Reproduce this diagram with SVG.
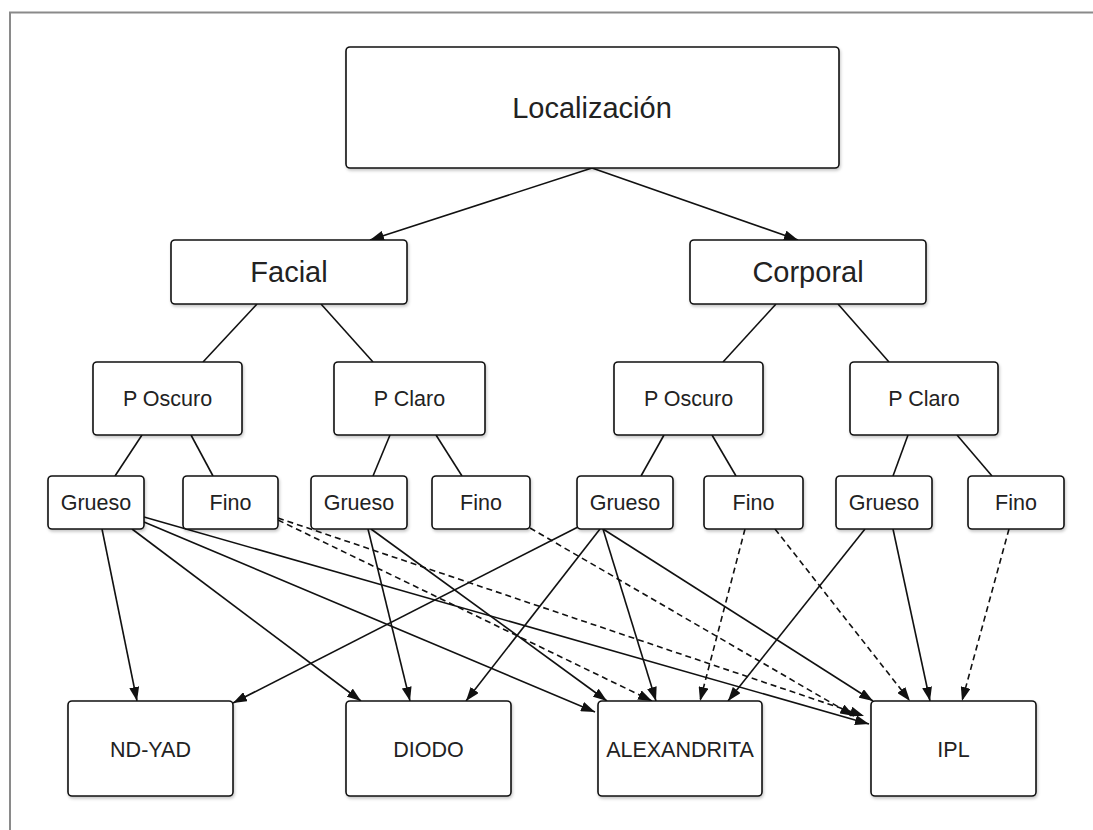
<svg xmlns="http://www.w3.org/2000/svg" width="1093" height="830" viewBox="0 0 1093 830">
<defs>
<style>
.box{fill:#fff;stroke:#111;stroke-width:1.6;filter:url(#sh)}
.t{font-family:"Liberation Sans",Arial,Helvetica,sans-serif;fill:#222;text-anchor:middle}
.big{font-size:29px}
.sm{font-size:21.5px}
.ln{stroke:#111;stroke-width:1.6;fill:none}
.ar{marker-end:url(#ah)}
.da{stroke-dasharray:6 4}
</style>
<filter id="sh" x="-10%" y="-10%" width="130%" height="140%">
<feDropShadow dx="1" dy="2" stdDeviation="1.5" flood-color="#000" flood-opacity="0.22"/>
</filter>
<marker id="ah" viewBox="0 0 14 10" refX="14" refY="5" markerWidth="14" markerHeight="10" markerUnits="userSpaceOnUse" orient="auto">
<path d="M0,0 L14,5 L0,10 z" fill="#111"/>
</marker>
</defs>
<rect x="0" y="0" width="1093" height="830" fill="#fff"/>
<rect x="10" y="12.5" width="1200" height="1000" fill="#fff" stroke="#8a8a8a" stroke-width="2"/>

<g id="connectors">
<line class="ln" x1="257" y1="304" x2="203" y2="362"/>
<line class="ln" x1="321" y1="304" x2="373" y2="362"/>
<line class="ln" x1="776" y1="304" x2="723" y2="362"/>
<line class="ln" x1="838" y1="304" x2="889" y2="362"/>
<line class="ln" x1="142" y1="435" x2="115" y2="476"/>
<line class="ln" x1="191" y1="435" x2="213" y2="476"/>
<line class="ln" x1="390" y1="435" x2="373" y2="476"/>
<line class="ln" x1="436" y1="435" x2="462" y2="476"/>
<line class="ln" x1="664" y1="435" x2="641" y2="476"/>
<line class="ln" x1="712" y1="435" x2="736" y2="476"/>
<line class="ln" x1="908" y1="435" x2="893" y2="476"/>
<line class="ln" x1="957" y1="435" x2="992" y2="476"/>

<line class="ln ar" x1="592" y1="168" x2="370" y2="240"/>
<line class="ln ar" x1="592" y1="168" x2="798" y2="240"/>

<line class="ln ar" x1="102" y1="529" x2="137" y2="701"/>
<line class="ln ar" x1="132" y1="529" x2="361" y2="701"/>
<line class="ln ar" x1="144" y1="522" x2="595" y2="712"/>
<line class="ln ar" x1="144" y1="517" x2="869" y2="724"/>
<line class="ln ar" x1="368" y1="529" x2="410" y2="701"/>
<line class="ln ar" x1="371" y1="529" x2="607" y2="701"/>
<line class="ln ar" x1="578" y1="527" x2="233" y2="703"/>
<line class="ln ar" x1="600" y1="529" x2="466" y2="701"/>
<line class="ln ar" x1="603" y1="529" x2="656" y2="701"/>
<line class="ln ar" x1="603" y1="529" x2="873" y2="701"/>
<line class="ln ar" x1="865" y1="529" x2="728" y2="701"/>
<line class="ln ar" x1="893" y1="529" x2="930" y2="701"/>

<line class="ln ar da" x1="278" y1="520" x2="652" y2="701"/>
<line class="ln ar da" x1="278" y1="518" x2="864" y2="716"/>
<line class="ln ar da" x1="530" y1="528" x2="854" y2="716"/>
<line class="ln ar da" x1="745" y1="529" x2="700" y2="701"/>
<line class="ln ar da" x1="775" y1="529" x2="910" y2="701"/>
<line class="ln ar da" x1="1009" y1="529" x2="962" y2="701"/>
</g>

<g id="loc"><rect class="box" x="346" y="47" width="493" height="121" rx="4"/><text class="t big" x="592" y="118">Localización</text></g>
<g id="facial"><rect class="box" x="171" y="240" width="236" height="64" rx="4"/><text class="t big" x="289" y="282">Facial</text></g>
<g id="corporal"><rect class="box" x="690" y="240" width="236" height="64" rx="4"/><text class="t big" x="808" y="282">Corporal</text></g>

<g id="poscuro1"><rect class="box" x="93" y="362" width="149" height="73" rx="4"/><text class="t sm" x="167.5" y="406">P Oscuro</text></g>
<g id="pclaro1"><rect class="box" x="334" y="362" width="151" height="73" rx="4"/><text class="t sm" x="409.5" y="406">P Claro</text></g>
<g id="poscuro2"><rect class="box" x="614" y="362" width="149" height="73" rx="4"/><text class="t sm" x="688.5" y="406">P Oscuro</text></g>
<g id="pclaro2"><rect class="box" x="850" y="362" width="148" height="73" rx="4"/><text class="t sm" x="924" y="406">P Claro</text></g>

<g id="grueso1"><rect class="box" x="48" y="476" width="96" height="53" rx="4"/><text class="t sm" x="96" y="510">Grueso</text></g>
<g id="fino1"><rect class="box" x="183" y="476" width="95" height="53" rx="4"/><text class="t sm" x="230.5" y="510">Fino</text></g>
<g id="grueso2"><rect class="box" x="311" y="476" width="96" height="53" rx="4"/><text class="t sm" x="359" y="510">Grueso</text></g>
<g id="fino2"><rect class="box" x="432" y="476" width="98" height="53" rx="4"/><text class="t sm" x="481" y="510">Fino</text></g>
<g id="grueso3"><rect class="box" x="577" y="476" width="96" height="53" rx="4"/><text class="t sm" x="625" y="510">Grueso</text></g>
<g id="fino3"><rect class="box" x="704" y="476" width="99" height="53" rx="4"/><text class="t sm" x="753.5" y="510">Fino</text></g>
<g id="grueso4"><rect class="box" x="836" y="476" width="96" height="53" rx="4"/><text class="t sm" x="884" y="510">Grueso</text></g>
<g id="fino4"><rect class="box" x="968" y="476" width="96" height="53" rx="4"/><text class="t sm" x="1016" y="510">Fino</text></g>

<g id="ndyad"><rect class="box" x="68" y="701" width="165" height="95" rx="4"/><text class="t sm" x="150.5" y="757">ND-YAD</text></g>
<g id="diodo"><rect class="box" x="346" y="701" width="165" height="95" rx="4"/><text class="t sm" x="428.5" y="757">DIODO</text></g>
<g id="alexandrita"><rect class="box" x="598" y="701" width="164" height="95" rx="4"/><text class="t sm" x="680" y="757">ALEXANDRITA</text></g>
<g id="ipl"><rect class="box" x="871" y="701" width="165" height="95" rx="4"/><text class="t sm" x="953.5" y="757">IPL</text></g>
</svg>
